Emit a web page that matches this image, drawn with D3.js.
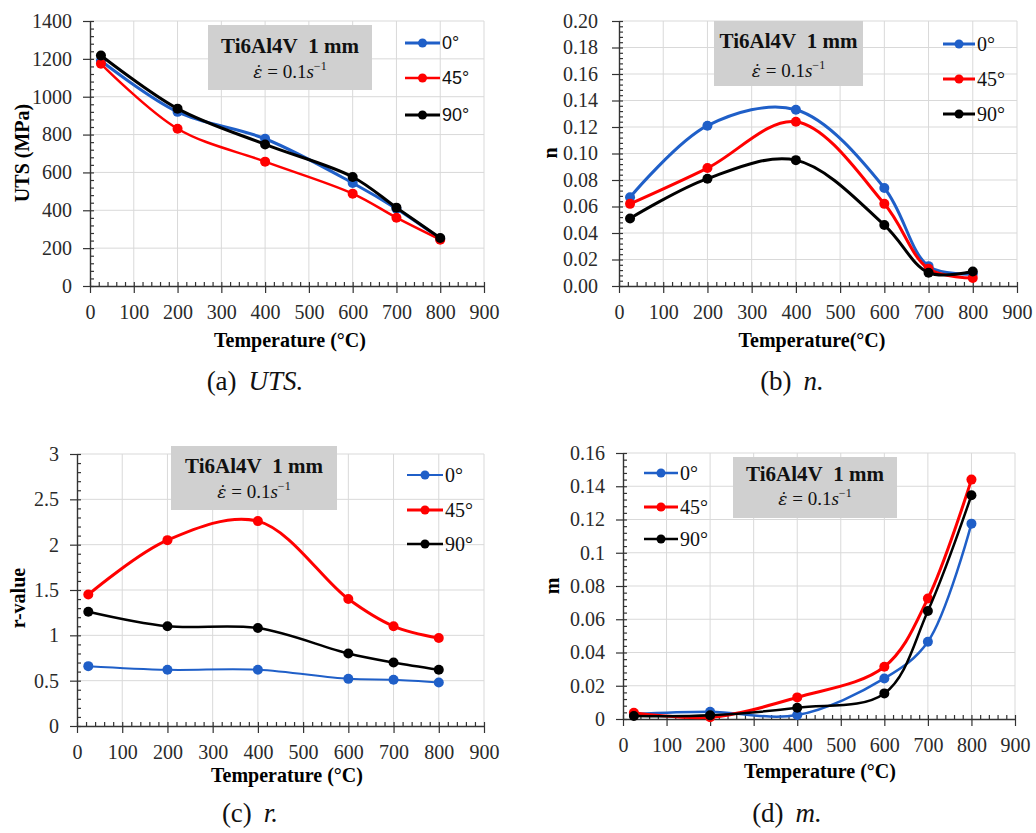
<!DOCTYPE html>
<html>
<head>
<meta charset="utf-8">
<script src="https://cdn.jsdelivr.net/npm/d3@7"></script>
<style>
body { margin: 0; background: #fff; }
svg { display: block; }
</style>
</head>
<body>
<svg id="chart" width="1036" height="833"></svg>
<script>
// temperatures (deg C) and orientation labels
const temps = [25, 200, 400, 600, 700, 800];
const angleLabels = ["0°", "45°", "90°"];
const seriesColors = ["#1f5fc8", "#ff0000", "#000000"];

// (a) UTS, MPa
const uts0 = [1190, 920, 778, 544, 408, 250];
const uts45 = [1174, 831, 657, 488, 361, 245];
const uts90 = [1218, 937, 748, 576, 414, 254];

// (b) n
const n0 = [0.067, 0.121, 0.133, 0.074, 0.015, 0.009];
const n45 = [0.062, 0.089, 0.124, 0.062, 0.013, 0.006];
const n90 = [0.051, 0.081, 0.095, 0.046, 0.010, 0.011];

// (c) r-value
const r0 = [0.66, 0.62, 0.62, 0.52, 0.51, 0.48];
const r45 = [1.45, 2.05, 2.26, 1.40, 1.10, 0.97];
const r90 = [1.26, 1.10, 1.08, 0.80, 0.70, 0.62];

// (d) m
const m0 = [0.003, 0.0044, 0.0024, 0.0244, 0.0465, 0.1175];
const m45 = [0.0038, 0.001, 0.013, 0.0314, 0.0725, 0.144];
const m90 = [0.0018, 0.0022, 0.0068, 0.0154, 0.065, 0.1346];

// tick labels
const xTicks = [0, 100, 200, 300, 400, 500, 600, 700, 800, 900];
const utsTicks = [0, 200, 400, 600, 800, 1000, 1200, 1400];
const nTicks = [0, 0.02, 0.04, 0.06, 0.08, 0.10, 0.12, 0.14, 0.16, 0.18, 0.20];
const rTicks = [0, 0.5, 1, 1.5, 2, 2.5, 3];
const mTicks = [0, 0.02, 0.04, 0.06, 0.08, 0.1, 0.12, 0.14, 0.16];

const svg = d3.select("#chart");
const serif = "'Liberation Serif', 'DejaVu Serif', serif";
const sans = "'Liberation Sans', Arial, sans-serif";

function drawPanel(opt) {
    const g = svg.append("g");
    const x = d3.scaleLinear().domain([0, 900]).range([opt.left, opt.right]);
    const y = d3.scaleLinear()
        .domain([opt.yTicks[0], opt.yTicks[opt.yTicks.length - 1]])
        .range([opt.bottom, opt.top]);

    // gridlines
    g.append("g").attr("stroke", "#d9d9d9").attr("stroke-width", 1)
        .selectAll("line").data(xTicks.slice(1)).join("line")
        .attr("x1", d => x(d)).attr("x2", d => x(d))
        .attr("y1", opt.top).attr("y2", opt.bottom);
    g.append("g").attr("stroke", "#d9d9d9").attr("stroke-width", 1)
        .selectAll("line").data(opt.yTicks.slice(1)).join("line")
        .attr("x1", opt.left).attr("x2", opt.right)
        .attr("y1", d => y(d)).attr("y2", d => y(d));

    // x axis: major ticks below, minor ticks above
    const xa = g.append("g")
        .attr("transform", `translate(0,${opt.bottom})`)
        .call(d3.axisBottom(x).tickValues(xTicks).tickSizeInner(7).tickSizeOuter(0).tickPadding(12));
    g.append("g")
        .attr("transform", `translate(0,${opt.bottom})`)
        .call(d3.axisTop(x).tickValues(d3.range(0, 901, 20)).tickSize(4).tickFormat(""))
        .call(a => a.select(".domain").remove());

    // y axis: major ticks left, minor ticks right
    const ya = g.append("g")
        .attr("transform", `translate(${opt.left},0)`)
        .call(d3.axisLeft(y).tickValues(opt.yTicks).tickSizeInner(7).tickSizeOuter(0)
            .tickPadding(opt.yPad).tickFormat(opt.yFormat));
    g.append("g")
        .attr("transform", `translate(${opt.left},0)`)
        .call(d3.axisRight(y).tickValues(d3.range(opt.yTicks[0], opt.yTicks[opt.yTicks.length - 1] + opt.minor / 2, opt.minor)).tickSize(4).tickFormat(""))
        .call(a => a.select(".domain").remove());

    g.selectAll(".domain").attr("stroke", "#333").attr("stroke-width", 1.4);
    g.selectAll(".tick line").attr("stroke", "#333").attr("stroke-width", 1.2);
    [xa, ya].forEach(a => a.attr("font-family", serif).selectAll("text")
        .attr("font-family", serif).attr("font-size", 20).attr("fill", "#2a2a2a"));

    // axis titles
    g.append("text")
        .attr("x", opt.xTitlePos[0]).attr("y", opt.xTitlePos[1])
        .attr("text-anchor", "middle")
        .attr("font-family", serif).attr("font-weight", "bold").attr("font-size", 20)
        .text(opt.xTitle);
    g.append("text")
        .attr("transform", `translate(${opt.yTitlePos[0]},${opt.yTitlePos[1]}) rotate(-90)`)
        .attr("text-anchor", "middle")
        .attr("font-family", serif).attr("font-weight", "bold").attr("font-size", 20)
        .text(opt.yTitle);

    // annotation box
    const b = opt.box;
    g.append("rect")
        .attr("x", b.x).attr("y", b.y).attr("width", b.w).attr("height", b.h)
        .attr("fill", "#d0d0d0");
    g.append("text")
        .attr("x", b.x + b.w / 2).attr("y", b.t1)
        .attr("text-anchor", "middle")
        .attr("font-family", serif).attr("font-weight", "bold").attr("font-size", 21)
        .attr("fill", "#111")
        .text("Ti6Al4V\u00a0\u00a01 mm");
    const sub = g.append("text")
        .attr("x", b.x + b.w / 2).attr("y", b.t2)
        .attr("text-anchor", "middle")
        .attr("font-family", serif).attr("font-size", 19).attr("fill", "#111");
    sub.append("tspan").attr("font-family", "'DejaVu Serif', serif")
        .attr("font-style", "italic").attr("font-size", 17).text("\u03b5\u0307");
    sub.append("tspan").text(" = 0.1");
    sub.append("tspan").attr("font-style", "italic").text("s");
    sub.append("tspan").attr("dy", -8).attr("font-size", 12).text("\u22121");

    // series
    opt.series.forEach((vals, i) => {
        const pts = temps.map((t, j) => [x(t), y(vals[j])]);
        g.append("path")
            .attr("d", d3.line().curve(d3.curveCatmullRom.alpha(0.5))(pts))
            .attr("fill", "none")
            .attr("stroke", seriesColors[i])
            .attr("stroke-width", opt.widths[i]);
        g.append("g").selectAll("circle").data(pts).join("circle")
            .attr("cx", d => d[0]).attr("cy", d => d[1]).attr("r", 5)
            .attr("fill", seriesColors[i]);
    });

    // legend
    const L = opt.legend;
    angleLabels.forEach((lab, i) => {
        const ly = L.ys[i];
        g.append("line")
            .attr("x1", L.x1).attr("x2", L.x2).attr("y1", ly).attr("y2", ly)
            .attr("stroke", seriesColors[i]).attr("stroke-width", opt.widths[i]);
        g.append("circle")
            .attr("cx", (L.x1 + L.x2) / 2).attr("cy", ly).attr("r", 4.5)
            .attr("fill", seriesColors[i]);
        g.append("text")
            .attr("x", L.x2 + 2).attr("y", ly).attr("dy", "0.35em")
            .attr("font-family", L.font).attr("font-size", L.size).attr("fill", "#111")
            .text(lab);
    });

    // caption
    const cap = g.append("text")
        .attr("x", opt.caption.x).attr("y", opt.caption.y)
        .attr("text-anchor", "middle")
        .attr("font-family", serif).attr("font-size", 27).attr("fill", "#111");
    cap.append("tspan").text(opt.caption.tag);
    cap.append("tspan").attr("dx", 12).attr("font-style", "italic").text(opt.caption.name);
}

drawPanel({
    left: 90, right: 484, top: 21, bottom: 286,
    yTicks: utsTicks, minor: 40, yPad: 11, yFormat: d3.format("d"),
    xTitle: "Temperature (°C)", xTitlePos: [290, 347],
    yTitle: "UTS (MPa)", yTitlePos: [29, 153],
    box: { x: 208, y: 25, w: 164, h: 65, t1: 53, t2: 78 },
    series: [uts0, uts45, uts90], widths: [3, 2.5, 3],
    legend: { x1: 405, x2: 440, ys: [43, 78, 115], font: sans, size: 18 },
    caption: { x: 255, y: 390, tag: "(a)", name: "UTS." }
});

drawPanel({
    left: 619, right: 1017, top: 21, bottom: 286,
    yTicks: nTicks, minor: 0.004, yPad: 14, yFormat: d3.format(".2f"),
    xTitle: "Temperature(°C)", xTitlePos: [812, 347],
    yTitle: "n", yTitlePos: [557, 153],
    box: { x: 714, y: 21, w: 149, h: 65, t1: 48, t2: 77 },
    series: [n0, n45, n90], widths: [3, 3, 3],
    legend: { x1: 943, x2: 975, ys: [44, 79, 114], font: serif, size: 20 },
    caption: { x: 792, y: 390, tag: "(b)", name: "n." }
});

drawPanel({
    left: 77, right: 484, top: 454, bottom: 726,
    yTicks: rTicks, minor: 0.1, yPad: 11, yFormat: d => String(d),
    xTitle: "Temperature (°C)", xTitlePos: [287, 782],
    yTitle: "r-value", yTitlePos: [25, 598],
    box: { x: 171, y: 446, w: 166, h: 64, t1: 473, t2: 498 },
    series: [r0, r45, r90], widths: [2, 3, 2.5],
    legend: { x1: 407, x2: 443, ys: [475, 510, 544], font: serif, size: 20 },
    caption: { x: 250, y: 822, tag: "(c)", name: "r." }
});

drawPanel({
    left: 623, right: 1015, top: 453, bottom: 719,
    yTicks: mTicks, minor: 0.004, yPad: 11, yFormat: d => String(d),
    xTitle: "Temperature (°C)", xTitlePos: [820, 778],
    yTitle: "m", yTitlePos: [559, 586],
    box: { x: 733, y: 457, w: 164, h: 61, t1: 481, t2: 505 },
    series: [m0, m45, m90], widths: [2.5, 3, 2.5],
    legend: { x1: 644, x2: 678, ys: [473, 507, 539], font: serif, size: 20 },
    caption: { x: 787, y: 822, tag: "(d)", name: "m." }
});
</script>
</body>
</html>
